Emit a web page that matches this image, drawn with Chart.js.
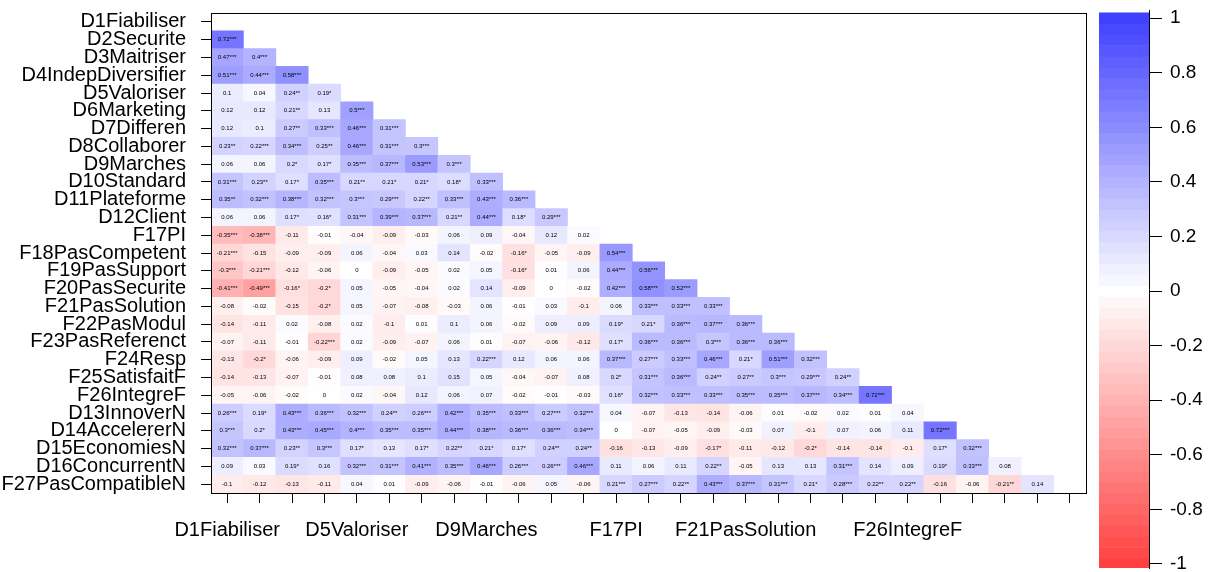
<!DOCTYPE html>
<html>
<head>
<meta charset="utf-8">
<script src="https://cdn.jsdelivr.net/npm/chart.js@4.4.1/dist/chart.umd.min.js"></script>
<style>
  body { margin: 0; background: #fff; }
  #wrap { position: relative; width: 1212px; height: 572px; }
  #heat { position: absolute; left: 0; top: 0; }
  #colorBar { position: absolute; left: 1085px; top: 0; }
</style>
</head>
<body>
<div id="wrap">
  <canvas id="heat" width="1212" height="572" style="width:1212px;height:572px"></canvas>
  <canvas id="colorBar" width="127" height="572" style="width:127px;height:572px"></canvas>
</div>
<script>
// variable names (rows top->bottom, columns left->right)
var variables = ['D1Fiabiliser', 'D2Securite', 'D3Maitriser', 'D4IndepDiversifier', 'D5Valoriser',
  'D6Marketing', 'D7Differen', 'D8Collaborer', 'D9Marches', 'D10Standard', 'D11Plateforme',
  'D12Client', 'F17PI', 'F18PasCompetent', 'F19PasSupport', 'F20PasSecurite', 'F21PasSolution',
  'F22PasModul', 'F23PasReferenct', 'F24Resp', 'F25SatisfaitF', 'F26IntegreF', 'D13InnoverN',
  'D14AccelererN', 'D15EconomiesN', 'D16ConcurrentN', 'F27PasCompatibleN'];

// lower triangle, one string per row, value + significance stars
var cellRows = [
  '',
  '0.72***',
  '0.47*** 0.4***',
  '0.51*** 0.44*** 0.58***',
  '0.1 0.04 0.24** 0.19*',
  '0.12 0.12 0.21** 0.13 0.5***',
  '0.12 0.1 0.27** 0.33*** 0.46*** 0.31***',
  '0.23** 0.22*** 0.34*** 0.25** 0.46*** 0.31*** 0.3***',
  '0.06 0.06 0.2* 0.17* 0.35*** 0.37*** 0.53*** 0.3***',
  '0.31*** 0.23** 0.17* 0.35*** 0.21** 0.21* 0.21* 0.18* 0.33***',
  '0.35** 0.32*** 0.38*** 0.32*** 0.3*** 0.29*** 0.22** 0.33*** 0.43*** 0.36***',
  '0.06 0.06 0.17* 0.16* 0.31*** 0.39*** 0.37*** 0.21** 0.44*** 0.18* 0.29***',
  '-0.35*** -0.38*** -0.11 -0.01 -0.04 -0.09 -0.03 0.06 0.09 -0.04 0.12 0.02',
  '-0.21*** -0.15 -0.09 -0.09 0.06 -0.04 0.03 0.14 -0.02 -0.16* -0.05 -0.09 0.54***',
  '-0.3*** -0.21*** -0.12 -0.06 0 -0.09 -0.05 0.02 0.05 -0.16* 0.01 0.06 0.44*** 0.56***',
  '-0.41*** -0.49*** -0.16* -0.2* 0.05 -0.05 -0.04 0.02 0.14 -0.09 0 -0.02 0.42*** 0.58*** 0.52***',
  '-0.08 -0.02 -0.15 -0.2* 0.05 -0.07 -0.08 -0.03 0.06 -0.01 0.03 -0.1 0.06 0.33*** 0.33*** 0.33***',
  '-0.14 -0.11 0.02 -0.08 0.02 -0.1 0.01 0.1 0.06 -0.02 0.09 0.09 0.19* 0.21* 0.36*** 0.37*** 0.36***',
  '-0.07 -0.11 -0.01 -0.22*** 0.02 -0.09 -0.07 0.06 0.01 -0.07 -0.06 -0.12 0.17* 0.36*** 0.36*** 0.3*** 0.36*** 0.36***',
  '-0.13 -0.2* -0.06 -0.09 0.09 -0.02 0.05 0.13 0.22*** 0.12 0.06 0.06 0.37*** 0.27*** 0.33*** 0.46*** 0.21* 0.51*** 0.32***',
  '-0.14 -0.13 -0.07 -0.01 0.08 0.08 0.1 0.15 0.05 -0.04 -0.07 0.08 0.2* 0.31*** 0.36*** 0.24** 0.27** 0.3*** 0.29*** 0.24**',
  '-0.05 -0.06 -0.02 0 0.02 -0.04 0.12 0.06 0.07 -0.02 -0.01 -0.03 0.16* 0.32*** 0.33*** 0.33*** 0.35*** 0.35*** 0.37*** 0.34*** 0.72***',
  '0.26*** 0.19* 0.43*** 0.36*** 0.32*** 0.24** 0.26*** 0.42*** 0.35*** 0.33*** 0.27*** 0.32*** 0.04 -0.07 -0.13 -0.14 -0.06 0.01 -0.02 0.02 0.01 0.04',
  '0.3*** 0.2* 0.43*** 0.45*** 0.4*** 0.35*** 0.35*** 0.44*** 0.38*** 0.36*** 0.36*** 0.34*** 0 -0.07 -0.05 -0.09 -0.03 0.07 -0.1 0.07 0.06 0.11 0.72***',
  '0.32*** 0.37*** 0.23** 0.3*** 0.17* 0.13 0.17* 0.22** 0.21* 0.17* 0.24** 0.24** -0.16 -0.13 -0.09 -0.17* -0.11 -0.12 -0.2* -0.14 -0.14 -0.1 0.17* 0.32***',
  '0.09 0.03 0.19* 0.16 0.32*** 0.31*** 0.41*** 0.35*** 0.46*** 0.26*** 0.26*** 0.46*** 0.11 0.06 0.11 0.22** -0.05 0.13 0.13 0.31*** 0.14 0.09 0.19* 0.33*** 0.08',
  '-0.1 -0.12 -0.13 -0.11 0.04 0.01 -0.09 -0.06 -0.01 -0.06 0.05 -0.06 0.21*** 0.27*** 0.22** 0.43*** 0.37*** 0.31*** 0.21* 0.28*** 0.22** 0.22** -0.16 -0.06 -0.21** 0.14'
];

var xLabelIdx = [0, 4, 8, 12, 16, 21]; // labels R kept on the x axis
var barTicks = [1, 0.8, 0.6, 0.4, 0.2, 0, -0.2, -0.4, -0.6, -0.8, -1];
var barMin = -1.015, barMax = 1.03;

var FONT = 'Liberation Sans, Arial, sans-serif';

// red - white - blue
function corrColor(v) {
  var t = Math.min(Math.abs(v), 1);
  var c = Math.round(255 - t * (255 - 64));
  if (v >= 0) return 'rgb(' + c + ',' + c + ',255)';
  return 'rgb(255,' + c + ',' + c + ')';
}

var cellData = [], cellColors = [], cellText = [];
for (var r = 0; r < cellRows.length; r++) {
  if (!cellRows[r]) continue;
  var parts = cellRows[r].split(' ');
  for (var c = 0; c < parts.length; c++) {
    var v = parseFloat(parts[c]);
    cellData.push({ x: variables[c], y: [r - 0.5, r + 0.5] });
    cellColors.push(corrColor(v));
    cellText.push(parts[c]);
  }
}

var boxPlugin = {
  id: 'box',
  afterDraw: function(chart) {
    var a = chart.chartArea, ctx = chart.ctx;
    ctx.save();
    ctx.strokeStyle = '#000';
    ctx.lineWidth = 1;
    ctx.strokeRect(Math.round(a.left) + 0.5, Math.round(a.top) + 0.5, Math.round(a.right - a.left), Math.round(a.bottom - a.top));
    ctx.restore();
  }
};

var cellTextPlugin = {
  id: 'cellText',
  afterDatasetsDraw: function(chart) {
    var ctx = chart.ctx;
    var meta = chart.getDatasetMeta(0);
    ctx.save();
    ctx.fillStyle = '#000';
    ctx.font = '6px ' + FONT;
    ctx.textAlign = 'center';
    ctx.textBaseline = 'middle';
    meta.data.forEach(function(bar, i) {
      ctx.fillText(cellText[i], bar.x, (bar.y + bar.base) / 2);
    });
    ctx.restore();
  }
};

var heat = new Chart(document.getElementById('heat').getContext('2d'), {
  type: 'bar',
  data: {
    labels: variables,
    datasets: [{
      data: cellData,
      backgroundColor: cellColors,
      borderWidth: 0,
      barPercentage: 1,
      categoryPercentage: 1
    }]
  },
  options: {
    responsive: false,
    animation: false,
    layout: { padding: { top: 13, right: 126, left: 0, bottom: 0 } },
    plugins: { legend: { display: false }, tooltip: { enabled: false } },
    scales: {
      x: {
        type: 'category',
        offset: true,
        grid: { drawOnChartArea: false, offset: false, tickLength: 10, color: '#000' },
        border: { color: '#000' },
        ticks: {
          autoSkip: false, maxRotation: 0, color: '#000', padding: 15,
          font: { family: FONT, size: 20 },
          callback: function(val, index) {
            return xLabelIdx.indexOf(index) >= 0 ? variables[index] : '';
          }
        },
        afterFit: function(s) { s.height = 79; s.paddingLeft = 0; s.paddingRight = 0; }
      },
      y: {
        type: 'linear',
        reverse: true,
        min: -0.5,
        max: 26.5,
        afterBuildTicks: function(s) {
          s.ticks = variables.map(function(n, i) { return { value: i }; });
        },
        grid: { drawOnChartArea: false, tickLength: 10, color: '#000' },
        border: { color: '#000' },
        ticks: {
          autoSkip: false, color: '#000', padding: 15,
          font: { family: FONT, size: 20 },
          callback: function(val, index) { return variables[index]; }
        },
        afterFit: function(s) { s.width = 211; s.paddingTop = 0; s.paddingBottom = 0; }
      }
    }
  },
  plugins: [boxPlugin, cellTextPlugin]
});

// colour legend bands, centred every 0.04
var bandData = [], bandColors = [];
for (var k = -25; k <= 25; k++) {
  var mid = k * 0.04;
  bandData.push({ x: 'scale', y: [Math.max(mid - 0.02, barMin), Math.min(mid + 0.02, barMax)] });
  bandColors.push(corrColor(mid));
}

var colorBar = new Chart(document.getElementById('colorBar').getContext('2d'), {
  type: 'bar',
  data: {
    labels: ['scale'],
    datasets: [{
      data: bandData,
      backgroundColor: bandColors,
      borderWidth: 0,
      barPercentage: 1,
      categoryPercentage: 1
    }]
  },
  options: {
    responsive: false,
    animation: false,
    layout: { padding: { top: 10, bottom: 4, left: 14, right: 0 } },
    plugins: { legend: { display: false }, tooltip: { enabled: false } },
    scales: {
      x: { display: false },
      y: {
        position: 'right',
        min: barMin,
        max: barMax,
        afterBuildTicks: function(s) {
          s.ticks = barTicks.map(function(t) { return { value: t }; });
        },
        grid: { drawOnChartArea: false, tickLength: 13, color: '#000' },
        border: { color: '#000' },
        ticks: {
          autoSkip: false, color: '#000', padding: 8,
          font: { family: FONT, size: 19 },
          callback: function(val) { return String(val); }
        },
        afterFit: function(s) { s.width = 63; s.paddingTop = 0; s.paddingBottom = 0; }
      }
    }
  }
});
</script>
</body>
</html>
